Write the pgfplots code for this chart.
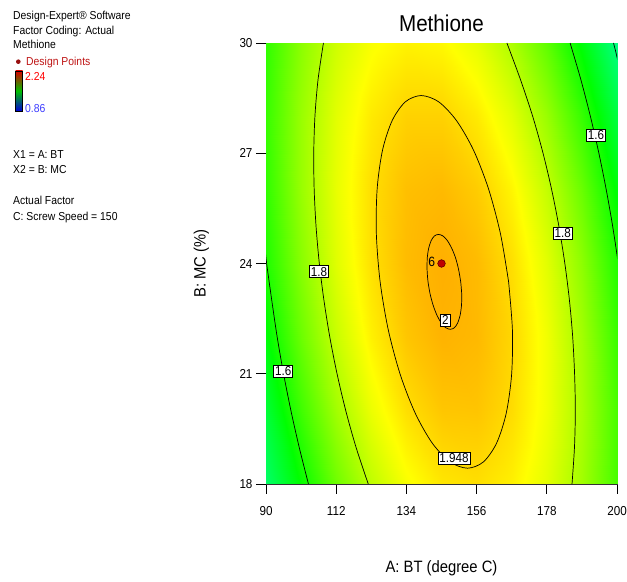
\documentclass[border=0pt]{standalone}
\usepackage{pgfplots}
\pgfplotsset{compat=1.18}
\usepackage{fontspec}
\setmainfont{Liberation Sans}[FakeStretch=0.9]
\definecolor{dpred}{RGB}{190,20,20}
\definecolor{lblue}{RGB}{60,60,255}
\begin{document}
\begin{tikzpicture}[x=1bp,y=1bp]
\path[use as bounding box] (0,0) rectangle (627,582);
% left side panel text
\begin{scope}[every node/.style={anchor=base west, inner sep=0pt, font=\fontsize{11.6}{13}\selectfont}]
\node at (13,562.2) {Design-Expert® Software};
\node at (13,547) {Factor Coding: Actual};
\node at (13,533) {Methione};
\node[text=dpred] at (26,516) {Design Points};
\node[text=red] at (25,501) {2.24};
\node[text=lblue] at (25,469.5) {0.86};
\node at (13,423) {X1 = A: BT};
\node at (13,408) {X2 = B: MC};
\node at (13,377) {Actual Factor};
\node at (13,361.3) {C: Screw Speed = 150};
\end{scope}
\fill[dpred!80!black] (18.3,520.3) circle (2.3);
\shade[top color=red!85!black, bottom color=blue!85!black, middle color=green!75!black] (15.7,471) rectangle (22.7,511);
\draw[black, line width=0.8] (15.7,471) rectangle (22.7,511);
\begin{axis}[
  at={(266bp,98bp)}, anchor=south west,
  width=351bp, height=441bp, scale only axis,
  xmin=90, xmax=200, ymin=18, ymax=30,
  xtick={90,112,134,156,178,200},
  ytick={18,21,24,27,30},
  tick align=outside, tick pos=left,
  major tick length=10bp,
  tick style={black, line width=0.7bp},
  axis line style={black!80, line width=0.9bp},
  /pgf/number format/assume math mode=true,
  ticklabel style={font=\fontsize{13}{15}\selectfont},
  xticklabel style={yshift=-9bp},
  colormap={de}{rgb255(0cm)=(0,0,255); rgb255(1cm)=(0,255,255); rgb255(2cm)=(0,255,0); rgb255(3cm)=(255,255,0); rgb255(4cm)=(255,0,0)},
  point meta min=0.86, point meta max=2.24,
  title={Methione},
  title style={font=\fontsize{23}{26}\selectfont, at={(axis description cs:0.5,1.031)}, anchor=center},
  xlabel={A: BT (degree C)},
  xlabel style={font=\fontsize{16.5}{19}\selectfont, at={(axis description cs:0.5,-0.1905)}, anchor=center},
  ylabel={B: MC (\%)},
  ylabel style={font=\fontsize{16.5}{19}\selectfont, at={(axis description cs:-0.1838,0.5)}, anchor=center},
  clip=true,
]
\addplot[surf, shader=interp, mesh/cols=11, point meta=\thisrow{z}] table {
x y z
90 18 1.410
101 18 1.556
112 18 1.699
123 18 1.808
134 18 1.885
145 18 1.928
156 18 1.938
167 18 1.914
178 18 1.858
189 18 1.768
200 18 1.645
90 20 1.475
101 20 1.635
112 20 1.769
123 20 1.870
134 20 1.938
145 20 1.972
156 20 1.974
167 20 1.942
178 20 1.876
189 20 1.778
200 20 1.647
90 22 1.540
101 22 1.695
112 22 1.820
123 22 1.913
134 22 1.972
145 22 1.998
156 22 1.990
167 22 1.949
178 22 1.876
189 22 1.769
200 22 1.628
90 24 1.590
101 24 1.735
112 24 1.852
123 24 1.936
134 24 1.986
145 24 2.003
156 24 1.987
167 24 1.938
178 24 1.855
189 24 1.740
200 24 1.595
90 26 1.615
101 26 1.756
112 26 1.864
123 26 1.939
134 26 1.981
145 26 1.989
156 26 1.964
167 26 1.907
178 26 1.815
189 26 1.691
200 26 1.540
90 28 1.624
101 28 1.757
112 28 1.856
123 28 1.923
134 28 1.956
145 28 1.956
156 28 1.922
167 28 1.856
178 28 1.756
189 28 1.623
200 28 1.462
90 30 1.614
101 30 1.738
112 30 1.829
123 30 1.887
134 30 1.911
145 30 1.903
156 30 1.861
167 30 1.785
178 30 1.677
189 30 1.535
200 30 1.375
};
% contour 2.0
\addplot[black, line width=0.7bp, smooth] coordinates {
(151.02,23.50) (150.37,23.83) (149.41,24.15) (148.22,24.41) (146.86,24.62) (145.44,24.75)
(144.05,24.79) (142.79,24.75) (141.74,24.62) (140.97,24.41) (140.54,24.15) (140.48,23.83)
(140.78,23.50) (141.43,23.17) (142.39,22.86) (143.58,22.59) (144.94,22.38) (146.36,22.25)
(147.75,22.21) (149.01,22.25) (150.06,22.38) (150.83,22.59) (151.26,22.86) (151.33,23.17)
(151.02,23.50)};
% contour 1.948
\addplot[black, line width=0.7bp, smooth] coordinates {
(166.03,23.50) (163.47,24.81) (159.70,26.04) (155.00,27.09) (149.68,27.89) (144.10,28.40)
(138.64,28.57) (133.68,28.40) (129.55,27.89) (126.53,27.09) (124.84,26.04) (124.58,24.81)
(125.77,23.50) (128.33,22.19) (132.10,20.97) (136.80,19.92) (142.12,19.11) (147.70,18.60)
(153.16,18.43) (158.12,18.60) (162.25,19.11) (165.27,19.92) (166.96,20.97) (167.22,22.19)
(166.03,23.50)};
% contour 1.8 left
\addplot[black, line width=0.7bp, smooth] coordinates {
(122.04,18) (118.21,19) (114.98,20) (112.26,21) (109.99,22) (108.15,23) (106.71,24)
(105.69,25) (105.10,26) (104.96,27) (105.33,28) (106.30,29) (108.00,30)};
% contour 1.8 right
\addplot[black, line width=0.7bp, smooth] coordinates {
(185.90,18) (186.67,19) (186.94,20) (186.70,21) (186.11,22) (185.09,23) (183.65,24)
(181.81,25) (179.54,26) (176.82,27) (173.59,28) (169.76,29) (165.50,30)};
% contour 1.6 left
\addplot[black, line width=0.7bp, smooth] coordinates {
(103.3,18) (100.4,19) (97.8,20) (95.5,21) (93.5,22) (91.8,23) (90.2,24) (89.6,24.5)};
% contour 1.6 right
\addplot[black, line width=0.7bp, smooth] coordinates {
(201.82,23) (200.38,24) (198.66,25) (196.64,26) (194.32,27) (191.67,28) (188.68,29) (185.30,30)};
% contour 1.4 corner
\addplot[black, line width=0.7bp] coordinates {(198.9,30) (199.5,29.8) (200.3,29.5)};
% contour labels
\begin{scope}[every node/.style={draw=black, fill=white, inner sep=1.4bp, line width=0.5bp, font=\fontsize{13}{14}\selectfont}]
\node at (axis cs:106.6,23.78) {1.8};
\node at (axis cs:183.0,24.82) {1.8};
\node at (axis cs:95.4,21.06) {1.6};
\node at (axis cs:193.4,27.50) {1.6};
\node at (axis cs:148.9,18.70) {1.948};
\node at (axis cs:146.2,22.46) {2};
\end{scope}
\node[font=\fontsize{13.5}{15}\selectfont, inner sep=0pt] at (axis cs:141.9,24.05) {6};
% design point
\addplot[only marks, mark=*, mark size=3.8bp, mark options={fill=red!75!black, draw=black!60!red, line width=0.6bp}] coordinates {(145,24)};
\end{axis}
\end{tikzpicture}
\end{document}
